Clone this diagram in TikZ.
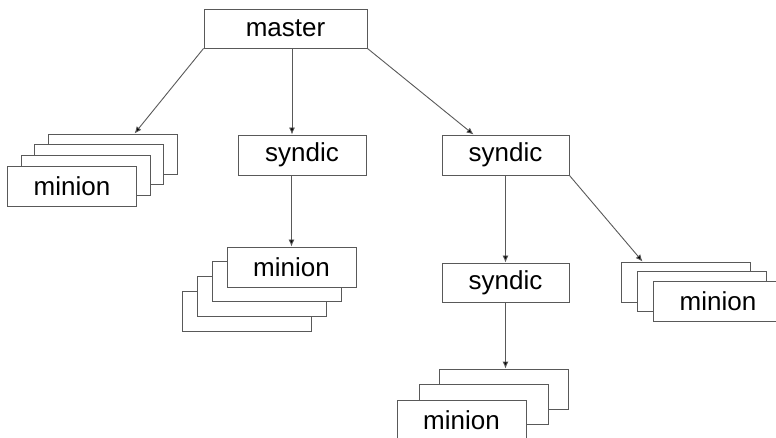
\documentclass[tikz,border=0pt]{standalone}
\usepackage{fontspec}
\setmainfont{Liberation Sans}
\usetikzlibrary{arrows.meta}
\begin{document}
\begin{tikzpicture}[x=1pt,y=-1pt,
  box/.style={draw=black!65,line width=0.9pt,fill=white,minimum width=129pt,minimum height=40pt,inner sep=0pt,font=\fontsize{26}{30}\selectfont,text=black},
  arr/.style={draw=black!65,line width=0.9pt,-{Latex[length=7pt,width=6pt,fill=black]}}]
\useasboundingbox (0,0) rectangle (776,438);
% master
\node[box,minimum width=163pt,minimum height=39pt] (m) at (285.5,28.5) {master};
% left stack
\node[box] (l1) at (112.5,154) {};
\node[box] (l2) at (99,164.7) {};
\node[box] (l3) at (85.5,175.3) {};
\node[box] (l4) at (72,186) {minion};
% middle syndic
\node[box,minimum width=128pt] (ms) at (302,155) {syndic};
% middle stack
\node[box] (p4) at (246.5,311) {};
\node[box] (p3) at (261.5,296.3) {};
\node[box] (p2) at (276.5,281.7) {};
\node[box] (p1) at (291.5,267) {minion};
% right syndics
\node[box,minimum width=127pt] (rs1) at (505.5,155) {syndic};
\node[box,minimum width=127pt,minimum height=39pt] (rs2) at (505.5,282.5) {syndic};
% right stack
\node[box] (r1) at (685.5,282) {};
\node[box] (r2) at (701.5,291) {};
\node[box] (r3) at (718,301) {minion};
% bottom stack
\node[box] (b1) at (503.5,389) {};
\node[box] (b2) at (483.5,404) {};
\node[box] (b3) at (461.5,420) {minion};
% connectors
\draw[arr] (m.south west) -- ([xshift=87pt]l1.north west);
\draw[arr] ([xshift=6.5pt]m.south) -- ([xshift=6.5pt]m.south |- ms.north);
\draw[arr] (m.south east) -- ([xshift=32pt]rs1.north west);
\draw[arr] (p1.north |- ms.south) -- (p1.north);
\draw[arr] (rs1.south) -- (rs2.north);
\draw[arr] (rs1.south east) -- ([xshift=22pt]r1.north west);
\draw[arr] (rs2.south) -- (rs2.south |- b1.north);
\end{tikzpicture}
\end{document}
